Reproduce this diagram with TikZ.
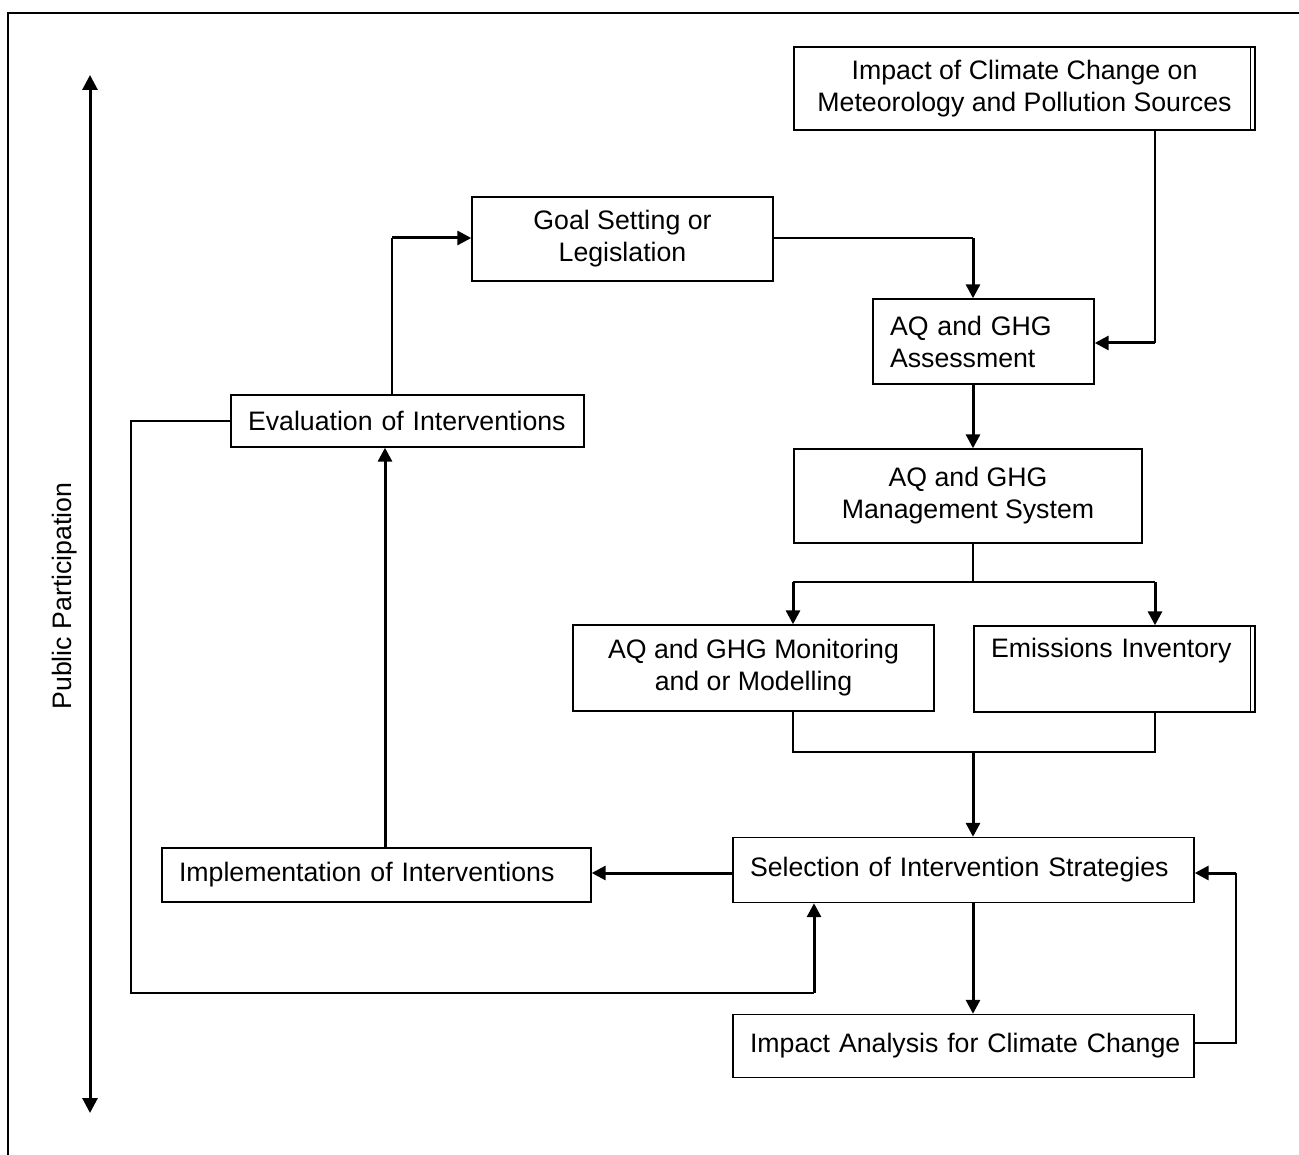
\documentclass[tikz,border=0pt]{standalone}
\usepackage{fontspec}
\setmainfont{Liberation Sans}
\usetikzlibrary{arrows.meta,positioning,calc}

\tikzset{
  box/.style={draw, line width=1.4pt, inner sep=0pt, align=center, font=\fontsize{26.7}{32}\selectfont},
  lbox/.style={box, align=left, inner xsep=17pt},
  link/.style={line width=1.4pt},
  flow/.style={line width=3pt, -{Triangle[length=14pt,width=14pt]}},
}

\begin{document}
\begin{tikzpicture}[x=1pt, y=-1pt]
  \useasboundingbox (0,0) rectangle (1299,1155);
  \draw[line width=2pt] (8,1155) -- (8,13) -- (1299,13);

  % side arrow
  \node[rotate=90, font=\fontsize{26.7}{32}\selectfont] (pp) at (65,596) {Public Participation};
  \coordinate (ptop) at (90,75);
  \coordinate (pbot) at (90,1113);
  \draw[line width=3pt, {Triangle[length=15pt,width=15pt]}-{Triangle[length=15pt,width=15pt]}] (ptop) -- (pbot);

  % boxes
  \node[box, minimum width=461pt, minimum height=83pt] (imp) at (1024.5,88.5) {Impact of Climate Change on\\Meteorology and Pollution Sources};
  \node[box, minimum width=301pt, minimum height=84pt] (goal) at (622.5,239) {Goal Setting or\\Legislation};
  \node[lbox, text width=187pt, minimum height=85pt] (assess) at (983.5,341.5) {AQ and GHG\\Assessment};
  \node[lbox, text width=319pt, minimum height=52pt] (eval) at (407.5,421) {\mbox{Evaluation of Interventions}};
  \node[box, minimum width=348pt, minimum height=94pt] (mgmt) at (968,496) {AQ and GHG\\Management System};
  \node[box, minimum width=361pt, minimum height=86pt] (mon) at (753.5,668) {AQ and GHG Monitoring\\and or Modelling};
  \node[lbox, text width=247pt, minimum height=86pt] (emis) at (1114.5,669) {Emissions Inventory\\\strut};
  \node[lbox, text width=427pt, minimum height=65pt] (sel) at (963.5,870) {\mbox{Selection of Intervention Strategies}};
  \node[lbox, text width=395pt, minimum height=54pt] (impl) at (376.5,875) {\mbox{Implementation of Interventions}};
  \node[lbox, text width=427pt, minimum height=63pt] (ana) at (963.5,1046) {\mbox{Impact Analysis for Climate Change}};

  % double right edges
  \draw[link] ([xshift=-5pt]imp.north east) -- ([xshift=-5pt]imp.south east);
  \draw[link] ([xshift=-5pt]emis.north east) -- ([xshift=-5pt]emis.south east);

  % climate impacts into assessment
  \coordinate (k1) at (1155,343);
  \draw[link] (imp.south -| k1) -- (k1);
  \draw[flow] (k1) -- (assess.east |- k1);

  % goal to assessment to management
  \coordinate (k2) at (973,238);
  \draw[link] (goal.east |- k2) -- (k2);
  \draw[flow] (k2) -- (assess.north -| k2);
  \draw[flow] (assess.south -| k2) -- (mgmt.north -| k2);

  % split
  \coordinate (k3) at (973,582);
  \coordinate (k3l) at (793,582);
  \coordinate (k3r) at (1155,582);
  \draw[link] (mgmt.south -| k3) -- (k3);
  \draw[link] (k3l) -- (k3r);
  \draw[flow] (k3l) -- (mon.north -| k3l);
  \draw[flow] (k3r) -- (emis.north -| k3r);

  % merge
  \coordinate (k4l) at (793,752);
  \coordinate (k4r) at (1155,752);
  \coordinate (k4) at (973,752);
  \draw[link] (mon.south -| k4l) -- (k4l) -- (k4r) -- (emis.south -| k4r);
  \draw[flow] (k4) -- (sel.north -| k4);

  % selection to implementation to evaluation
  \coordinate (k5) at (733,873);
  \draw[flow] (sel.west |- k5) -- (impl.east |- k5);
  \coordinate (k6) at (385,0);
  \draw[flow] (impl.north -| k6) -- (eval.south -| k6);

  % evaluation to goal
  \coordinate (k7) at (392,238);
  \draw[link] (eval.north -| k7) -- (k7);
  \draw[flow] (k7) -- (goal.west |- k7);

  % evaluation back to selection
  \coordinate (k8) at (131,993);
  \coordinate (k9) at (814,993);
  \draw[link] (eval.west) -| (k8) -- (k9);
  \draw[flow] (k9) -- (sel.south -| k9);

  % selection to impact analysis and back
  \draw[flow] (sel.south -| k2) -- (ana.north -| k2);
  \coordinate (k10) at (1236,873);
  \coordinate (k11) at (1236,1043);
  \draw[link] (ana.east |- k11) -- (k11) -- (k10);
  \draw[flow] (k10) -- (sel.east |- k10);
\end{tikzpicture}
\end{document}
